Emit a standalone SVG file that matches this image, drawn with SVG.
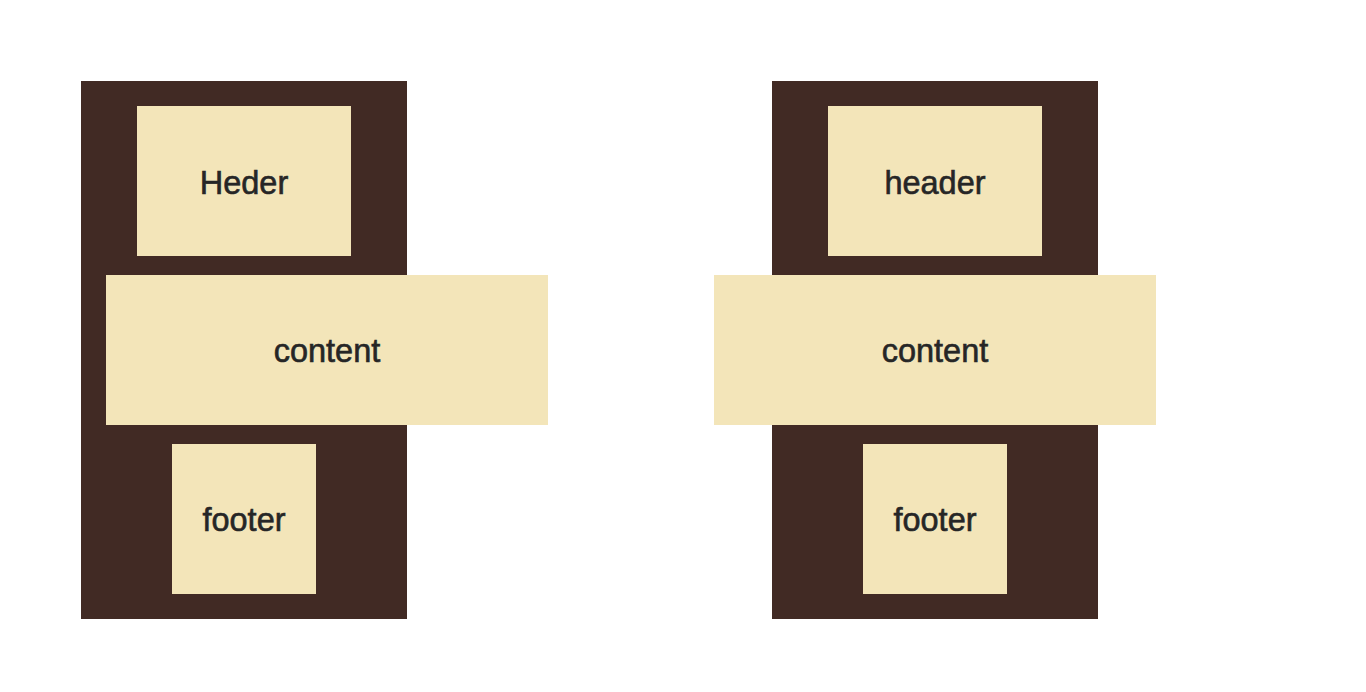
<svg xmlns="http://www.w3.org/2000/svg" width="1366" height="692" viewBox="0 0 1366 692">
<style>
.wrap{fill:#412a24}
.box{fill:#f3e5b9}
.t{font-family:"Liberation Sans",Arial,sans-serif;font-size:32.5px;fill:#262626;text-anchor:middle;stroke:#262626;stroke-width:0.6}
</style>
<rect width="1366" height="692" fill="#ffffff"/>
<g id="left-container"><rect class="wrap" x="81" y="81" width="326" height="538"/></g>
<g id="left-header"><rect class="box" x="137" y="106" width="214" height="150"/><text class="t" x="244" y="194">Heder</text></g>
<g id="left-content"><rect class="box" x="106" y="275" width="442" height="150"/><text class="t" x="327" y="362">content</text></g>
<g id="left-footer"><rect class="box" x="172" y="444" width="144" height="150"/><text class="t" x="244" y="531">footer</text></g>
<g id="right-container"><rect class="wrap" x="772" y="81" width="326" height="538"/></g>
<g id="right-header"><rect class="box" x="828" y="106" width="214" height="150"/><text class="t" x="935" y="194">header</text></g>
<g id="right-content"><rect class="box" x="714" y="275" width="442" height="150"/><text class="t" x="935" y="362">content</text></g>
<g id="right-footer"><rect class="box" x="863" y="444" width="144" height="150"/><text class="t" x="935" y="531">footer</text></g>
<g id="connectors"></g>
</svg>
